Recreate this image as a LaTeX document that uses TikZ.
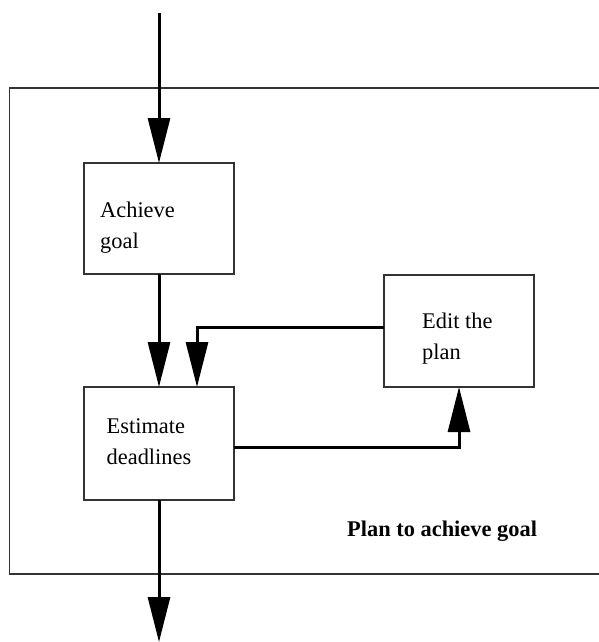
\documentclass[tikz,border=0pt]{standalone}
\usepackage{fontspec}
\setmainfont{Liberation Serif}
\usetikzlibrary{arrows.meta}
\begin{document}
\begin{tikzpicture}[x=1pt,y=-1pt,
  box/.style={draw=black!80, line width=1.2pt, minimum width=150pt, inner sep=0pt, outer sep=0pt},
  frame/.style={draw=black!80, line width=1.2pt, inner sep=0pt, outer sep=0pt},
  conn/.style={line width=3pt, -{Triangle[length=45pt,width=22pt]}},
  txt/.style={anchor=base west, inner sep=0pt, font=\fontsize{22.4}{31.5}\selectfont},
  lbl/.style={anchor=base west, inner sep=0pt, font=\fontsize{22.4}{26}\selectfont\bfseries}]
\useasboundingbox (0,0) rectangle (599,642);
\node[frame, minimum width=620pt, minimum height=486pt] (plan) at (319.5,331) {};
\node[box, minimum height=111pt] (ag) at (159,218.5) {};
\node[box, minimum height=113pt] (ed) at (159,443.5) {};
\node[box, minimum height=112pt] (edit) at (459,331) {};
\node[txt] (agt) at (100,217) {\begin{tabular}[t]{@{}l@{}}Achieve\\goal\end{tabular}};
\node[txt] (edt) at (106.5,433) {\begin{tabular}[t]{@{}l@{}}Estimate\\deadlines\end{tabular}};
\node[txt] (editt) at (422,328) {\begin{tabular}[t]{@{}l@{}}Edit the\\plan\end{tabular}};
\node[lbl] (lab) at (347,536) {Plan to achieve goal};
\coordinate (in) at (159,13);
\coordinate (out) at (159,642);
\draw[conn] (in) -- (ag.north);
\draw[conn] (ag.south) -- (ed.north);
\draw[conn] ([yshift=4pt]edit.west) -| ([xshift=38pt]ed.north);
\draw[conn] ([yshift=-3.5pt]ed.east) -| (edit.south);
\draw[conn] (ed.south) -- (out);
\end{tikzpicture}
\end{document}
